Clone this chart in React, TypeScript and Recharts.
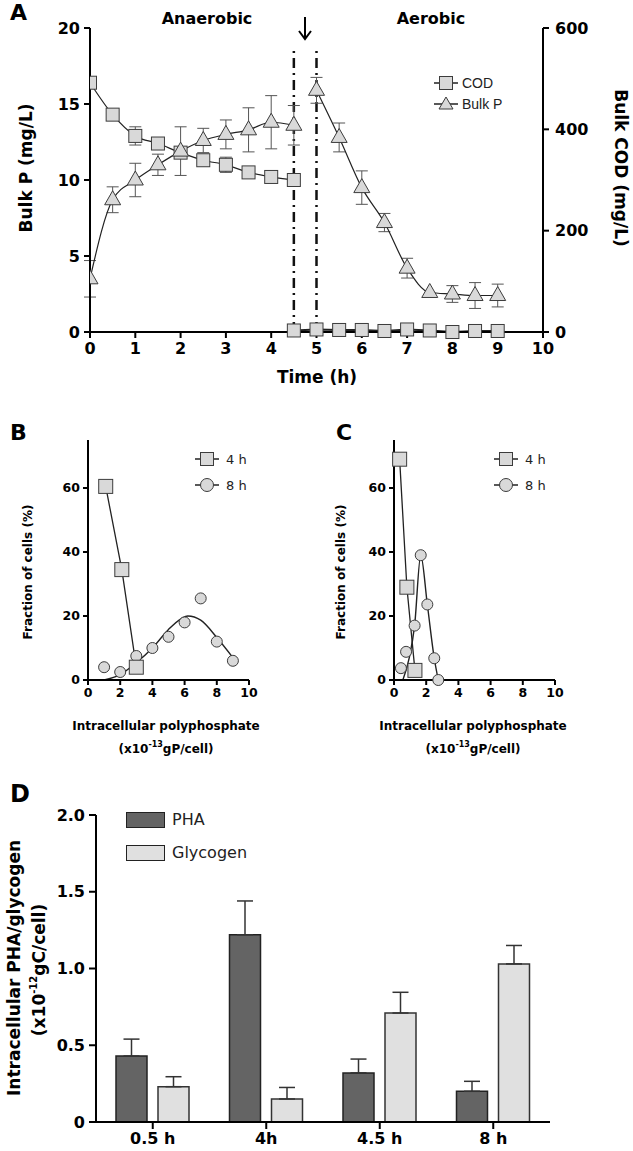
import React from "react";
import {
  ComposedChart,
  BarChart,
  Bar,
  Line,
  XAxis,
  YAxis,
  ErrorBar,
  ReferenceLine,
  Legend,
} from "recharts";

const FONT = "'DejaVu Sans', Verdana, sans-serif";

// ---- A: bulk P (left axis, mg/L) and COD (right axis, mg/L) ----
const TIME_ANA = [0, 0.5, 1, 1.5, 2, 2.5, 3, 3.5, 4, 4.5];
const TIME_AER = [5, 5.5, 6, 6.5, 7, 7.5, 8, 8.5, 9];
const TIME_COD_AER = [4.5, 5, 5.5, 6, 6.5, 7, 7.5, 8, 8.5, 9];
const BULKP_ANA = [3.5, 8.7, 10.0, 11.0, 11.9, 12.6, 13.0, 13.3, 13.8, 13.6];
const BULKP_ANA_ERR = [1.2, 0.85, 1.1, 0.7, 1.6, 0.8, 0.95, 1.45, 1.75, 1.3];
const BULKP_AER = [15.9, 12.8, 9.5, 7.2, 4.2, 2.6, 2.5, 2.4, 2.4];
const BULKP_AER_ERR = [0.85, 0.95, 1.1, 0.6, 0.65, null, 0.55, 0.85, 0.75];
const COD_ANA = [492, 429, 387, 372, 354, 339, 330, 315, 306, 300];
const COD_ANA_ERR = [null, null, 18, null, null, null, 15, null, null, null];
const COD_AER = [3, 5, 4, 4, 2, 5, 3, 0, 2, 2];
const PHASE_SWITCH = [4.5, 5];

// ---- B: polyphosphate distribution, run 1 ----
const B_4H_X = [1.1, 2.1, 3.0];
const B_4H_Y = [60.5, 34.5, 4];
const B_8H_X = [1, 2, 3, 4, 5, 6, 7, 8, 9];
const B_8H_Y = [4, 2.5, 7.5, 10, 13.5, 18, 25.5, 12, 6];
const B_FIT_X = [1, 2, 3, 4, 5, 5.8, 6.2, 7, 8, 9];
const B_FIT_Y = [0, 1.7, 5.4, 10, 15.8, 19.2, 20, 18.7, 13.3, 7];

// ---- C: polyphosphate distribution, run 2 ----
const C_4H_X = [0.35, 0.8, 1.3];
const C_4H_Y = [69, 29, 3];
const C_8H_X = [0.43, 0.75, 1.28, 1.66, 2.07, 2.5, 2.75];
const C_8H_Y = [3.7, 8.8, 17, 39, 23.6, 6.8, 0];
const C_FIT_X = [0.55, 0.95, 1.28, 1.66, 2.07, 2.5, 2.75];
const C_FIT_Y = [0, 7, 17, 39, 23.6, 6.8, 0];

// ---- D: PHA / glycogen ----
const D_CATS = ["0.5 h", "4h", "4.5 h", "8 h"];
const PHA = [0.43, 1.22, 0.32, 0.2];
const PHA_ERR = [0.11, 0.22, 0.09, 0.065];
const GLY = [0.23, 0.15, 0.71, 1.03];
const GLY_ERR = [0.065, 0.075, 0.135, 0.12];

const pts = (xs: number[], ys: (number | null)[], errs?: (number | null)[]) =>
  xs.map((x, i) => ({ x, y: ys[i], err: errs ? errs[i] : null }));

const dataD = D_CATS.map((name, i) => ({
  name,
  pha: PHA[i],
  phaErr: [0, PHA_ERR[i]],
  gly: GLY[i],
  glyErr: [0, GLY_ERR[i]],
}));

const MARK_FILL = "#d9d9d9";
const MARK_STROKE = "#3c3c3c";

const squareDot = (size: number) => (p: any) =>
  p.cx == null || p.cy == null ? (
    <g key={"s" + p.index} />
  ) : (
    <rect
      key={"s" + p.index}
      x={p.cx - size / 2}
      y={p.cy - size / 2}
      width={size}
      height={size}
      fill={MARK_FILL}
      stroke={MARK_STROKE}
      strokeWidth={1}
    />
  );

const triDot = (p: any) =>
  p.cx == null || p.cy == null ? (
    <g key={"t" + p.index} />
  ) : (
    <polygon
      key={"t" + p.index}
      points={`${p.cx},${p.cy - 9} ${p.cx - 8},${p.cy + 5} ${p.cx + 8},${p.cy + 5}`}
      fill={MARK_FILL}
      stroke={MARK_STROKE}
      strokeWidth={1}
    />
  );

const circleDot = (r: number) => (p: any) =>
  p.cx == null || p.cy == null ? (
    <g key={"c" + p.index} />
  ) : (
    <circle key={"c" + p.index} cx={p.cx} cy={p.cy} r={r} fill={MARK_FILL} stroke={MARK_STROKE} strokeWidth={1} />
  );

const tickBig = { fill: "#000", fontSize: 16, fontWeight: 700, fontFamily: FONT };
const tickSmall = { fill: "#000", fontSize: 12.5, fontWeight: 700, fontFamily: FONT };

function LegendItem({ kind, label, font }: { kind: string; label: string; font: any }) {
  return (
    <div style={{ display: "flex", alignItems: "center", height: font.rowH }}>
      <svg width={26} height={18} style={{ overflow: "visible" }}>
        <line x1={1} x2={25} y1={9} y2={9} stroke="#222" strokeWidth={1.5} />
        {kind === "square" && <rect x={6.5} y={2.5} width={13} height={13} fill={MARK_FILL} stroke={MARK_STROKE} />}
        {kind === "tri" && <polygon points="13,2 6,14 20,14" fill={MARK_FILL} stroke={MARK_STROKE} />}
        {kind === "circle" && <circle cx={13} cy={9} r={6.5} fill={MARK_FILL} stroke={MARK_STROKE} />}
      </svg>
      <span style={{ marginLeft: font.gap, fontFamily: font.family, fontSize: font.size, color: "#222" }}>{label}</span>
    </div>
  );
}

const legendAFont = { family: "'Liberation Sans', Arial, sans-serif", size: 14, rowH: 21, gap: 3 };
const legendBCFont = { family: FONT, size: 13, rowH: 26, gap: 6 };

function ChartA() {
  return (
    <ComposedChart width={633} height={400} margin={{ top: 28, right: 0, bottom: 0, left: 0 }}>
      <XAxis
        type="number"
        dataKey="x"
        domain={[0, 10]}
        ticks={[0, 1, 2, 3, 4, 5, 6, 7, 8, 9, 10]}
        height={68}
        tick={tickBig}
        tickSize={6}
        tickMargin={5}
        axisLine={{ stroke: "#000", strokeWidth: 2 }}
        tickLine={{ stroke: "#000", strokeWidth: 2 }}
        allowDataOverflow
      />
      <YAxis
        yAxisId="left"
        type="number"
        domain={[0, 20]}
        ticks={[0, 5, 10, 15, 20]}
        width={90}
        tick={tickBig}
        tickSize={6}
        tickMargin={4}
        axisLine={{ stroke: "#000", strokeWidth: 2 }}
        tickLine={{ stroke: "#000", strokeWidth: 2 }}
      />
      <YAxis
        yAxisId="right"
        orientation="right"
        type="number"
        domain={[0, 600]}
        ticks={[0, 200, 400, 600]}
        width={90}
        tick={tickBig}
        tickSize={6}
        tickMargin={6}
        axisLine={{ stroke: "#000", strokeWidth: 2 }}
        tickLine={{ stroke: "#000", strokeWidth: 2 }}
      />
      {PHASE_SWITCH.map((t) => (
        <ReferenceLine
          key={t}
          yAxisId="left"
          segment={[
            { x: t, y: 0 },
            { x: t, y: 18.8 },
          ]}
          stroke="#111"
          strokeWidth={2.5}
          strokeDasharray="10 5 2 5"
        />
      ))}
      <Line
        yAxisId="right"
        data={pts(TIME_ANA, COD_ANA, COD_ANA_ERR)}
        dataKey="y"
        type="monotone"
        stroke="#222"
        strokeWidth={1.2}
        dot={squareDot(13)}
        isAnimationActive={false}
      >
        <ErrorBar dataKey="err" width={6} stroke="#555" strokeWidth={1} direction="y" />
      </Line>
      <Line
        yAxisId="right"
        data={pts(TIME_COD_AER, COD_AER)}
        dataKey="y"
        type="linear"
        stroke="#222"
        strokeWidth={2}
        dot={squareDot(13)}
        isAnimationActive={false}
      />
      <Line
        yAxisId="left"
        data={pts(TIME_ANA, BULKP_ANA, BULKP_ANA_ERR)}
        dataKey="y"
        type="monotone"
        stroke="#222"
        strokeWidth={1.2}
        dot={triDot}
        isAnimationActive={false}
      >
        <ErrorBar dataKey="err" width={6} stroke="#555" strokeWidth={1} direction="y" />
      </Line>
      <Line
        yAxisId="left"
        data={pts(TIME_AER, BULKP_AER, BULKP_AER_ERR)}
        dataKey="y"
        type="monotone"
        stroke="#222"
        strokeWidth={1.2}
        dot={triDot}
        isAnimationActive={false}
      >
        <ErrorBar dataKey="err" width={6} stroke="#555" strokeWidth={1} direction="y" />
      </Line>
      <Legend
        layout="horizontal"
        verticalAlign="middle"
        align="center"
        wrapperStyle={{ left: 433, top: 72, width: "auto", height: "auto" }}
        content={() => (
          <div>
            <LegendItem kind="square" label="COD" font={legendAFont} />
            <LegendItem kind="tri" label="Bulk P" font={legendAFont} />
          </div>
        )}
      />
    </ComposedChart>
  );
}

function DistChart({
  sqX, sqY, ciX, ciY, fitX, fitY, yAxisWidth, marginRight, legendLeft,
}: {
  sqX: number[]; sqY: number[]; ciX: number[]; ciY: number[]; fitX: number[]; fitY: number[];
  yAxisWidth: number; marginRight: number; legendLeft: number;
}) {
  return (
    <ComposedChart
      width={yAxisWidth + 161 + marginRight}
      height={310}
      margin={{ top: 40, right: marginRight, bottom: 0, left: 0 }}
    >
      <XAxis
        type="number"
        dataKey="x"
        domain={[0, 10]}
        ticks={[0, 2, 4, 6, 8, 10]}
        height={30}
        tick={tickSmall}
        tickSize={5}
        tickMargin={3}
        axisLine={{ stroke: "#000", strokeWidth: 2 }}
        tickLine={{ stroke: "#000", strokeWidth: 2 }}
      />
      <YAxis
        type="number"
        domain={[0, 75]}
        ticks={[0, 20, 40, 60]}
        width={yAxisWidth}
        tick={tickSmall}
        tickSize={5}
        tickMargin={3}
        axisLine={{ stroke: "#000", strokeWidth: 2 }}
        tickLine={{ stroke: "#000", strokeWidth: 2 }}
      />
      <Line
        data={pts(fitX, fitY)}
        dataKey="y"
        type="monotone"
        stroke="#222"
        strokeWidth={1.4}
        dot={false}
        isAnimationActive={false}
      />
      <Line
        data={pts(ciX, ciY)}
        dataKey="y"
        stroke="none"
        dot={circleDot(5.5)}
        isAnimationActive={false}
      />
      <Line
        data={pts(sqX, sqY)}
        dataKey="y"
        type="linear"
        stroke="#222"
        strokeWidth={1.3}
        dot={squareDot(14)}
        isAnimationActive={false}
      />
      <Legend
        layout="horizontal"
        verticalAlign="middle"
        align="center"
        wrapperStyle={{ left: legendLeft, top: 46, width: "auto", height: "auto" }}
        content={() => (
          <div>
            <LegendItem kind="square" label="4 h" font={legendBCFont} />
            <LegendItem kind="circle" label="8 h" font={legendBCFont} />
          </div>
        )}
      />
    </ComposedChart>
  );
}

const legendDFont = { family: FONT, size: 16 };

function ChartD() {
  return (
    <BarChart
      width={633}
      height={371}
      data={dataD}
      margin={{ top: 35, right: 83, bottom: 0, left: 0 }}
      barGap={11}
    >
      <XAxis
        dataKey="name"
        height={29}
        tick={tickBig}
        tickSize={7}
        tickMargin={4}
        axisLine={{ stroke: "#000", strokeWidth: 2 }}
        tickLine={{ stroke: "#000", strokeWidth: 2 }}
      />
      <YAxis
        type="number"
        domain={[0, 2]}
        ticks={[0, 0.5, 1, 1.5, 2]}
        tickFormatter={(v: number) => (v === 0 ? "0" : v.toFixed(1))}
        width={96}
        tick={tickBig}
        tickSize={7}
        tickMargin={4}
        axisLine={{ stroke: "#000", strokeWidth: 2 }}
        tickLine={{ stroke: "#000", strokeWidth: 2 }}
      />
      <Bar dataKey="pha" fill="#646464" stroke="#222" strokeWidth={1.5} barSize={31} isAnimationActive={false}>
        <ErrorBar dataKey="phaErr" width={8} stroke="#333" strokeWidth={1.5} direction="y" />
      </Bar>
      <Bar dataKey="gly" fill="#e0e0e0" stroke="#333" strokeWidth={1.5} barSize={31} isAnimationActive={false}>
        <ErrorBar dataKey="glyErr" width={8} stroke="#333" strokeWidth={1.5} direction="y" />
      </Bar>
      <Legend
        layout="horizontal"
        verticalAlign="middle"
        align="center"
        wrapperStyle={{ left: 126, top: 23, width: "auto", height: "auto" }}
        content={() => (
          <div style={{ fontFamily: legendDFont.family, fontSize: legendDFont.size, color: "#222" }}>
            {[
              { label: "PHA", fill: "#646464" },
              { label: "Glycogen", fill: "#e0e0e0" },
            ].map((it) => (
              <div key={it.label} style={{ display: "flex", alignItems: "center", height: 33 }}>
                <div style={{ width: 37, height: 14, background: it.fill, border: "1.5px solid #222" }} />
                <span style={{ marginLeft: 7 }}>{it.label}</span>
              </div>
            ))}
          </div>
        )}
      />
    </BarChart>
  );
}

function Overlay() {
  const bold = { fontFamily: FONT, fontWeight: 700, fill: "#000" } as const;
  const sup = (s: string, size: number) => (
    <tspan baselineShift="super" fontSize={size}>
      {s}
    </tspan>
  );
  return (
    <svg
      width={633}
      height={1151}
      style={{ position: "absolute", left: 0, top: 0, pointerEvents: "none" }}
    >
      <text x={10} y={12} fontSize={22} dominantBaseline="central" {...bold}>A</text>
      <text x={207} y={18} fontSize={16} textAnchor="middle" dominantBaseline="central" {...bold}>Anaerobic</text>
      <text x={431} y={18} fontSize={16} textAnchor="middle" dominantBaseline="central" {...bold}>Aerobic</text>
      <line x1={305} y1={17} x2={305} y2={39} stroke="#000" strokeWidth={2} />
      <polyline points="299,31 305,39 311,31" fill="none" stroke="#000" strokeWidth={2} />
      <text transform="translate(26,168) rotate(-90)" fontSize={17} textAnchor="middle" dominantBaseline="central" {...bold}>
        Bulk P (mg/L)
      </text>
      <text transform="translate(621,168) rotate(90)" fontSize={17} textAnchor="middle" dominantBaseline="central" {...bold}>
        Bulk COD (mg/L)
      </text>
      <text x={317} y={377} fontSize={17} textAnchor="middle" dominantBaseline="central" {...bold}>Time (h)</text>

      <text x={10} y={432} fontSize={22} dominantBaseline="central" {...bold}>B</text>
      <text x={336} y={432} fontSize={22} dominantBaseline="central" {...bold}>C</text>
      {[28, 341].map((x) => (
        <text key={x} transform={`translate(${x},572) rotate(-90)`} fontSize={12} textAnchor="middle" dominantBaseline="central" {...bold}>
          Fraction of cells (%)
        </text>
      ))}
      {[166, 473].map((x) => (
        <g key={x}>
          <text x={x} y={726} fontSize={12} textAnchor="middle" dominantBaseline="central" {...bold}>
            Intracellular polyphosphate
          </text>
          <text x={x} y={749} fontSize={12} textAnchor="middle" dominantBaseline="central" {...bold}>
            (x10{sup("-13", 8)}gP/cell)
          </text>
        </g>
      ))}

      <text x={10} y={794} fontSize={24} dominantBaseline="central" {...bold}>D</text>
      <text transform="translate(14,968) rotate(-90)" fontSize={17} textAnchor="middle" dominantBaseline="central" {...bold}>
        Intracellular PHA/glycogen
      </text>
      <text transform="translate(39,970) rotate(-90)" fontSize={17} textAnchor="middle" dominantBaseline="central" {...bold}>
        (x10{sup("-12", 10)}gC/cell)
      </text>
    </svg>
  );
}

export default function App() {
  return (
    <div style={{ position: "absolute", left: 0, top: 0, width: 633, height: 1151, background: "#fff" }}>
      <div style={{ position: "absolute", left: 0, top: 0 }}>
        <ChartA />
      </div>
      <div style={{ position: "absolute", left: 0, top: 400 }}>
        <DistChart
          sqX={B_4H_X} sqY={B_4H_Y} ciX={B_8H_X} ciY={B_8H_Y} fitX={B_FIT_X} fitY={B_FIT_Y}
          yAxisWidth={88} marginRight={71} legendLeft={194}
        />
      </div>
      <div style={{ position: "absolute", left: 320, top: 400 }}>
        <DistChart
          sqX={C_4H_X} sqY={C_4H_Y} ciX={C_8H_X} ciY={C_8H_Y} fitX={C_FIT_X} fitY={C_FIT_Y}
          yAxisWidth={74} marginRight={78} legendLeft={173}
        />
      </div>
      <div style={{ position: "absolute", left: 0, top: 780 }}>
        <ChartD />
      </div>
      <Overlay />
    </div>
  );
}
